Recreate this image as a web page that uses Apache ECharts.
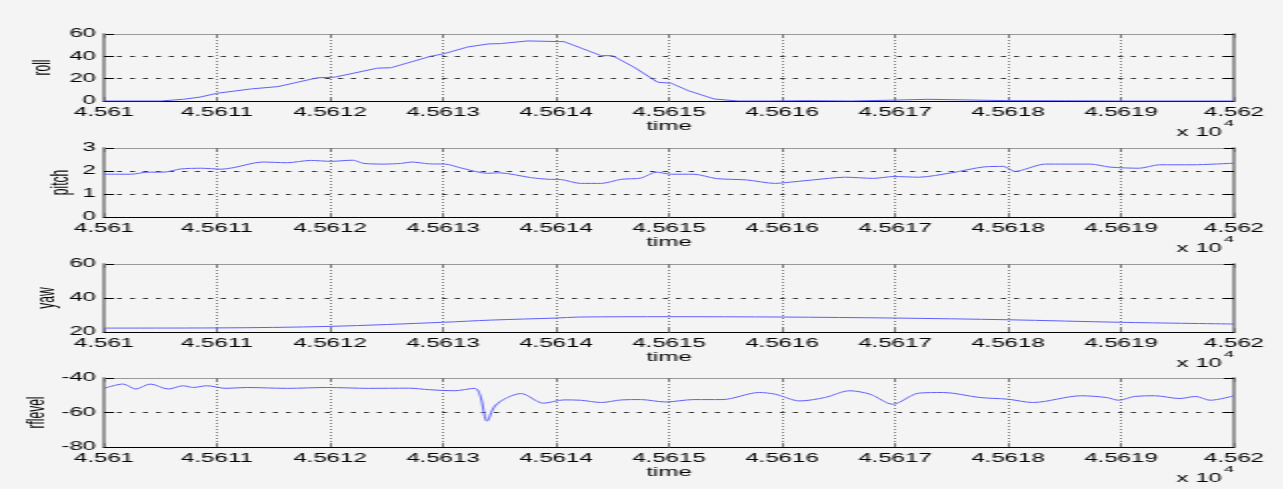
<!DOCTYPE html>
<html><head><meta charset="utf-8">
<script src="https://cdn.jsdelivr.net/npm/echarts@6/dist/echarts.min.js"></script>
<style>
html,body{margin:0;padding:0;background:#f4f4f4;overflow:hidden;}
#chart{width:641.5px;height:489px;transform:scaleX(2);transform-origin:0 0;}
</style></head><body><div id="chart"></div>
<script>
const T0 = 45610;
const xMin = 45610, xMax = 45620, xStep = 1;

const rollTime = [0,0.5,0.7,0.85,1.0,1.3,1.54,1.89,2.04,2.42,2.54,2.89,3.01,3.22,3.40,3.51,3.75,4.02,4.07,4.40,4.50,4.69,4.90,5.02,5.17,5.40,5.61,5.90,6.20,6.61,7.0,7.29,7.61,8.0,8.5,9.0,10];
const rollValues = [0,0,1.5,3.5,6.9,10.8,12.9,20.8,21.3,29.4,29.8,40.0,42.4,48.4,51.1,51.4,53.8,53.2,53.2,40.6,40.6,30.3,16.8,15.9,9.3,1.8,0,0,0.3,0,0.8,1.5,1.0,0.3,0.2,0,0];

const pitchTime = [0,0.24,0.39,0.53,0.68,0.86,1.04,1.15,1.40,1.62,1.83,2.01,2.20,2.30,2.48,2.63,2.72,2.88,3.02,3.17,3.39,3.50,3.78,3.93,4.04,4.22,4.40,4.58,4.75,4.89,5.02,5.22,5.42,5.69,5.94,6.02,6.27,6.56,6.81,6.99,7.21,7.50,7.79,7.96,8.06,8.33,8.73,8.90,9.16,9.34,9.63,10];
const pitchValues = [1.86,1.86,1.95,1.95,2.09,2.12,2.08,2.15,2.39,2.36,2.46,2.42,2.47,2.33,2.30,2.33,2.39,2.31,2.30,2.12,1.90,1.92,1.71,1.64,1.63,1.46,1.46,1.64,1.69,1.95,1.86,1.86,1.67,1.61,1.46,1.49,1.61,1.73,1.68,1.76,1.73,1.92,2.18,2.20,1.98,2.30,2.30,2.17,2.12,2.27,2.27,2.34];

const yawTime = [0,1,2,3,3.42,4,4.2,5,6,7,8,9,10];
const yawValues = [22.3,22.4,23.3,25.7,27.0,28.2,28.8,29.0,28.8,28.2,27.2,25.7,24.7];

const rfTime = [0,0.17,0.28,0.41,0.57,0.70,0.79,0.91,1.08,1.26,1.62,1.98,2.34,2.70,2.88,3.10,3.28,3.33,3.39,3.46,3.57,3.69,3.89,4.07,4.22,4.40,4.58,4.75,4.97,5.22,5.47,5.80,5.94,6.16,6.38,6.60,6.78,6.98,7.21,7.43,7.75,8.00,8.22,8.65,8.87,8.98,9.12,9.30,9.52,9.66,9.79,10];
const rfValues = [-46.0,-43.5,-46.4,-43.5,-46.4,-44.5,-45.5,-44.5,-46.0,-45.5,-46.0,-45.5,-46.0,-45.9,-46.8,-47.4,-46.0,-50.3,-65.0,-56.2,-51.3,-49.0,-54.6,-52.7,-52.9,-54.2,-52.7,-52.5,-53.9,-52.5,-52.5,-48.4,-49.4,-53.3,-51.3,-47.4,-49.4,-55.2,-48.8,-48.4,-51.3,-52.3,-54.2,-50.3,-51.3,-52.9,-50.7,-50.3,-51.9,-50.7,-52.9,-50.3];

const yLabels = ['roll','pitch','yaw','rflevel'];
const xLabel = 'time';
const yRanges = [[0,60,20],[0,3,1],[20,60,20],[-80,-40,20]];

const FONT = "'Liberation Sans', Arial, sans-serif";
const TXT = '#000';
const layout = [
  {top:34, height:67, gap:24, smooth:false},
  {top:148, height:69, gap:15, smooth:0.25},
  {top:264, height:68, gap:22, smooth:0.3},
  {top:378, height:69, gap:27, smooth:0.3}
];
const seriesData = [[rollTime,rollValues],[pitchTime,pitchValues],[yawTime,yawValues],[rfTime,rfValues]];

const grids=[], xAxes=[], yAxes=[], series=[], graphics=[];
layout.forEach((L,i)=>{
  grids.push({left:52, right:25, top:L.top, height:L.height});
  xAxes.push({
    gridIndex:i, type:'value', min:xMin, max:xMax, interval:xStep, position:'bottom',
    axisLine:{show:true, onZero:false, lineStyle:{color:'#000', width:1}},
    axisTick:{show:true, inside:true, length:4, lineStyle:{color:'#777'}},
    axisLabel:{color:TXT, fontSize:12, fontFamily:FONT, margin:6,
      formatter:v=>(v/10000).toFixed(4).replace(/0+$/,'')},
    splitLine:{show:true, lineStyle:{type:[1,2], color:'#777', width:1}},
    name:xLabel, nameLocation:'middle', nameGap:20, nameMoveOverlap:false,
    nameTextStyle:{color:TXT, fontSize:12, fontFamily:FONT}
  });
  xAxes.push({
    gridIndex:i, type:'value', min:xMin, max:xMax, interval:xStep, position:'top',
    axisLine:{show:true, onZero:false, lineStyle:{color:'#999', width:1}},
    axisTick:{show:true, inside:true, length:4, lineStyle:{color:'#777'}},
    axisLabel:{show:false}, splitLine:{show:false}
  });
  const [mn,mx,iv]=yRanges[i];
  yAxes.push({
    gridIndex:i, type:'value', min:mn, max:mx, interval:iv, position:'left',
    axisLine:{show:true, onZero:false, lineStyle:{color:'#999', width:2}},
    axisTick:{show:true, inside:true, length:5, lineStyle:{color:'#000'}},
    axisLabel:{color:TXT, fontSize:12, fontFamily:FONT, margin:4},
    splitLine:{show:true, lineStyle:{type:[2.5,4], color:'#333', width:1}},
    name:yLabels[i], nameLocation:'middle', nameGap:L.gap, nameMoveOverlap:false,
    nameTextStyle:{color:TXT, fontSize:12, fontFamily:FONT}
  });
  yAxes.push({
    gridIndex:i, type:'value', min:mn, max:mx, interval:iv, position:'right',
    axisLine:{show:true, onZero:false, lineStyle:{color:'#999', width:2}},
    axisTick:{show:true, inside:true, length:5, lineStyle:{color:'#000'}},
    axisLabel:{show:false}, splitLine:{show:false}
  });
  const [ts,vs]=seriesData[i];
  series.push({
    type:'line', xAxisIndex:i*2, yAxisIndex:i*2, showSymbol:false, smooth:L.smooth,
    lineStyle:{color:'#5f5fff', width:1}, data:ts.map((t,k)=>[T0+t, vs[k]]), silent:true, animation:false
  });
  const bottom = L.top + L.height;
  graphics.push({type:'text', right:31, top:bottom+26, style:{text:'x 10', fill:TXT, font:'12px '+FONT}});
  graphics.push({type:'text', left:612, top:bottom+18, style:{text:'4', fill:TXT, font:'9px '+FONT}});
});

const chart = echarts.init(document.getElementById('chart'), null, {renderer:'canvas'});
chart.setOption({
  backgroundColor:'#f4f4f4', animation:false,
  grid:grids, xAxis:xAxes, yAxis:yAxes, series:series, graphic:graphics
});
</script></body></html>
